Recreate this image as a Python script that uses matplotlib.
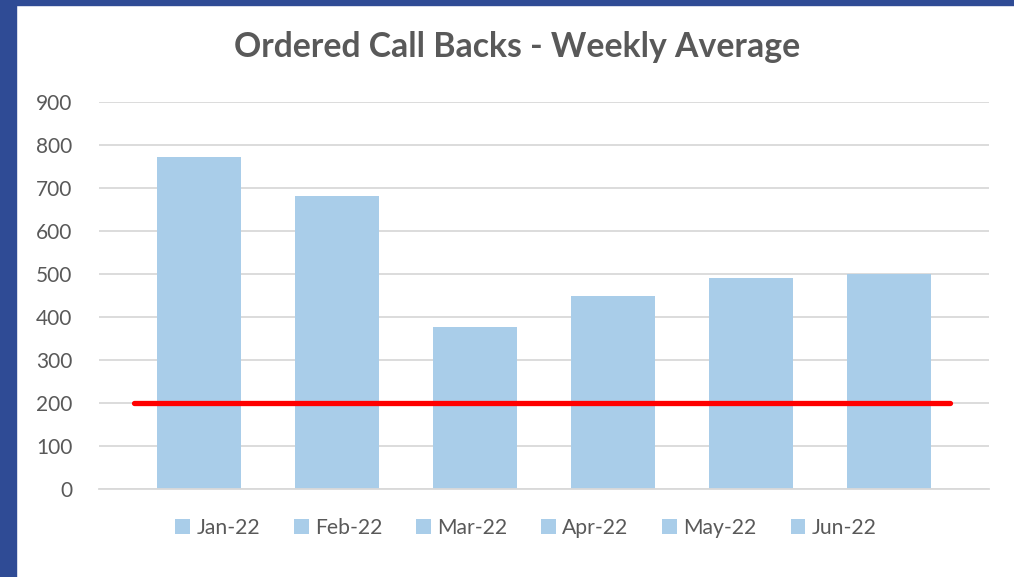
import matplotlib
matplotlib.use("Agg")
import matplotlib.pyplot as plt
from matplotlib.patches import Patch, Rectangle

months = ["Jan-22", "Feb-22", "Mar-22", "Apr-22", "May-22", "Jun-22"]
values = [772, 681, 377, 449, 491, 500]
target = 200
yticks = [0, 100, 200, 300, 400, 500, 600, 700, 800, 900]

bar_color = "#A9CDE9"
text_color = "#595959"
grid_color = "#D9D9D9"
frame_color = "#2F4B95"

plt.rcParams['font.family'] = ['Lato', 'DejaVu Sans']

W, H = 1014, 577
fig = plt.figure(figsize=(W / 100, H / 100), dpi=100)
fig.patch.set_facecolor("white")
# slide frame strips
fig.patches.append(Rectangle((0, 0), 16 / W, 1, transform=fig.transFigure, color=frame_color, zorder=0))
fig.patches.append(Rectangle((0, 1 - 5 / H), 1, 5 / H, transform=fig.transFigure, color=frame_color, zorder=0))

ax = fig.add_axes([99 / W, 1 - 489 / H, (989 - 99) / W, (489 - 102) / H])
x = list(range(len(months)))
ax.bar(x, values, width=0.61, color=bar_color, zorder=2)
ax.hlines(target, -0.471, 5.442, colors="#FF0000", linewidth=3.8, zorder=3, capstyle="round")

ax.set_xlim(-0.7246, 5.725)
ax.set_ylim(0, 900)
ax.set_yticks(yticks)
ax.set_yticklabels([str(v) for v in yticks], fontsize=15, color=text_color)
ax.tick_params(axis="y", length=0, pad=19)
ax.set_xticks([])
ax.yaxis.grid(True, color=grid_color, linewidth=1.3, zorder=0)
ax.set_axisbelow(True)
for s in ["top", "right", "left"]:
    ax.spines[s].set_visible(False)
ax.spines["bottom"].set_color(grid_color)
ax.spines["bottom"].set_linewidth(1.3)

fig.text(517 / W, 1 - 47 / H, "Ordered Call Backs - Weekly Average", ha="center", va="center",
         fontsize=24.3, fontweight="bold", color=text_color)

handles = [Patch(facecolor=bar_color, edgecolor="none") for _ in months]
leg = fig.legend(handles, months, loc="center", bbox_to_anchor=(526 / W, 1 - 528 / H), ncol=6,
                 frameon=False, fontsize=15.2, handlelength=0.7, handleheight=0.7,
                 handletextpad=0.3, columnspacing=1.6)
for t in leg.get_texts():
    t.set_color(text_color)

fig.savefig("out.png", dpi=100)
